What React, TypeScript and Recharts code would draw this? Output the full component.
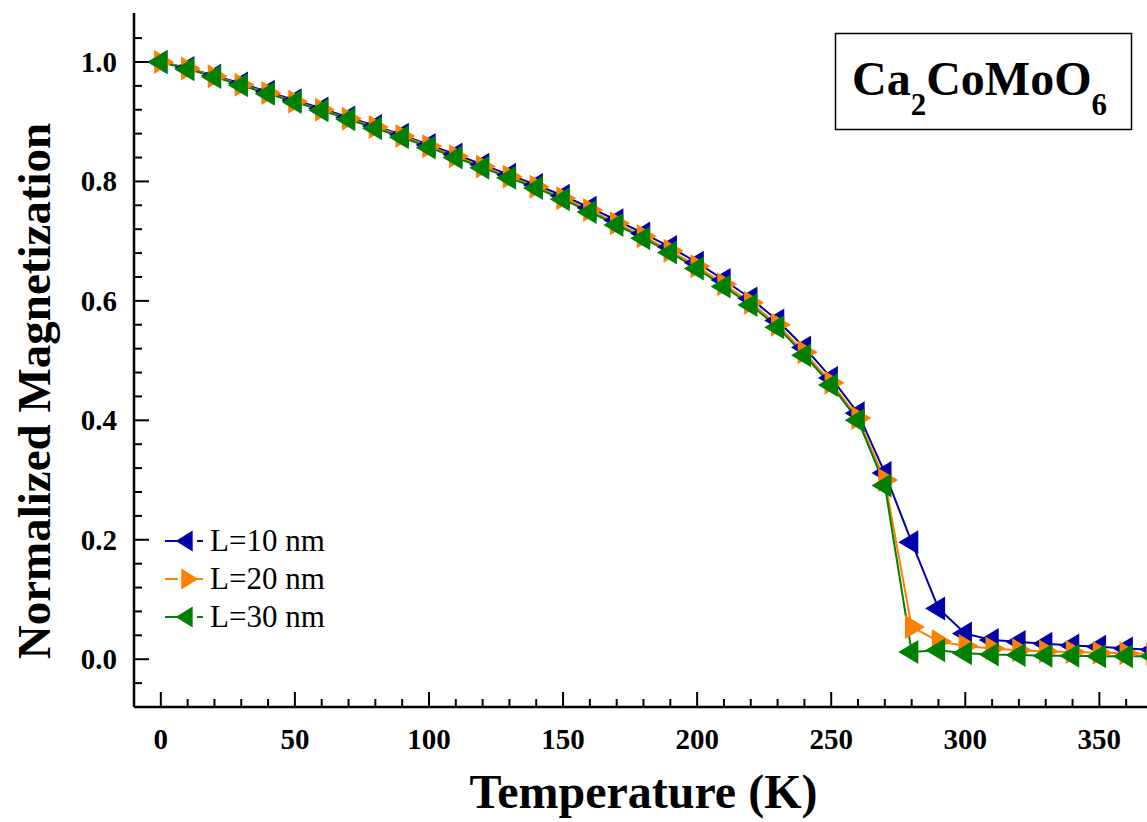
import React from 'react';
import { Legend, Line, LineChart, XAxis, YAxis } from 'recharts';

const temperatures = [
  0, 10, 20, 30, 40, 50, 60, 70, 80, 90, 100, 110, 120, 130, 140, 150, 160, 170, 180, 190,
  200, 210, 220, 230, 240, 250, 260, 270, 280, 290, 300, 310, 320, 330, 340, 350, 360, 370,
];

const magL10 = [
  1.0, 0.99, 0.977, 0.964, 0.95, 0.936, 0.922, 0.907, 0.893, 0.878, 0.861, 0.845, 0.828, 0.811,
  0.794, 0.776, 0.756, 0.735, 0.713, 0.69, 0.664, 0.635, 0.604, 0.567, 0.522, 0.471, 0.412,
  0.312, 0.196, 0.085, 0.043, 0.032, 0.029, 0.026, 0.023, 0.021, 0.018, 0.016,
];

const magL20 = [
  1.0, 0.989, 0.976, 0.962, 0.948, 0.934, 0.92, 0.905, 0.891, 0.876, 0.859, 0.842, 0.825, 0.808,
  0.791, 0.772, 0.752, 0.73, 0.708, 0.684, 0.658, 0.628, 0.597, 0.56, 0.514, 0.463, 0.404,
  0.3, 0.054, 0.03, 0.022, 0.018, 0.015, 0.013, 0.012, 0.011, 0.01, 0.009,
];

const magL30 = [
  1.0, 0.988, 0.975, 0.961, 0.947, 0.933, 0.919, 0.904, 0.889, 0.874, 0.857, 0.84, 0.823, 0.806,
  0.789, 0.77, 0.749, 0.727, 0.705, 0.681, 0.654, 0.624, 0.593, 0.556, 0.509, 0.459, 0.4,
  0.291, 0.012, 0.015, 0.01, 0.008, 0.007, 0.006, 0.006, 0.005, 0.005, 0.005,
];

const xTicks = [
  0, 10, 20, 30, 40, 50, 60, 70, 80, 90, 100, 110, 120, 130, 140, 150, 160, 170, 180, 190,
  200, 210, 220, 230, 240, 250, 260, 270, 280, 290, 300, 310, 320, 330, 340, 350, 360,
];

const yTicks = [
  -0.04, 0, 0.04, 0.08, 0.12, 0.16, 0.2, 0.24, 0.28, 0.32, 0.36, 0.4, 0.44, 0.48, 0.52, 0.56,
  0.6, 0.64, 0.68, 0.72, 0.76, 0.8, 0.84, 0.88, 0.92, 0.96, 1.0, 1.04,
];

const seriesNames = ['L=10 nm', 'L=20 nm', 'L=30 nm'];
const COLORS = ['#0000a8', '#ff8000', '#008000'];
const FONT = "'Liberation Serif', 'Times New Roman', serif";

const data = temperatures.map((t, i) => ({
  t,
  l10: magL10[i],
  l20: magL20[i],
  l30: magL30[i],
}));

const isMajorX = (v: number) => v % 50 === 0;
const isMajorY = (v: number) => Math.abs(v * 5 - Math.round(v * 5)) < 1e-6;

function BottomTick(props: any) {
  const { x, y, payload } = props;
  const major = isMajorX(payload.value);
  return (
    <g>
      <line x1={x} y1={y} x2={x} y2={y - (major ? 15 : 8)} stroke="#000" strokeWidth={2} />
      {major ? (
        <text x={x} y={y + 42} textAnchor="middle" fontSize={29} fontWeight="bold" fontFamily={FONT} fill="#000">
          {payload.value}
        </text>
      ) : null}
    </g>
  );
}

function TopTick(props: any) {
  const { x, y, payload } = props;
  const major = isMajorX(payload.value);
  return <line x1={x} y1={y} x2={x} y2={y + (major ? 15 : 8)} stroke="#000" strokeWidth={2} />;
}

function LeftTick(props: any) {
  const { x, y, payload } = props;
  const major = isMajorY(payload.value);
  return (
    <g>
      <line x1={x} y1={y} x2={x + (major ? 15 : 8)} y2={y} stroke="#000" strokeWidth={2} />
      {major ? (
        <text x={x - 17} y={y + 10} textAnchor="end" fontSize={29} fontWeight="bold" fontFamily={FONT} fill="#000">
          {Number(payload.value).toFixed(1)}
        </text>
      ) : null}
    </g>
  );
}

function RightTick(props: any) {
  const { x, y, payload } = props;
  const major = isMajorY(payload.value);
  return <line x1={x} y1={y} x2={x - (major ? 15 : 8)} y2={y} stroke="#000" strokeWidth={2} />;
}

function triangle(cx: number, cy: number, dir: 'left' | 'right', w = 20, h = 24) {
  // centroid-centred triangle, like Origin markers
  const tip = (2 * w) / 3;
  const base = w / 3;
  if (dir === 'left') return `${cx - tip},${cy} ${cx + base},${cy - h / 2} ${cx + base},${cy + h / 2}`;
  return `${cx + tip},${cy} ${cx - base},${cy - h / 2} ${cx - base},${cy + h / 2}`;
}

const makeDot = (color: string, dir: 'left' | 'right') => (props: any) => {
  const { cx, cy, index } = props;
  if (cx == null || cy == null) return <g key={`d-${index}`} />;
  return <polygon key={`d-${index}`} points={triangle(cx, cy, dir)} fill={color} />;
};

const markerDirs: Array<'left' | 'right'> = ['left', 'right', 'left'];

function LegendContent() {
  return (
    <div style={{ fontFamily: FONT, fontSize: 31, color: '#000' }}>
      {seriesNames.map((name, i) => (
        <div key={name} style={{ display: 'flex', alignItems: 'center', height: 38 }}>
          <svg width={45} height={30} style={{ display: 'block' }}>
            <line x1={0} y1={15} x2={13} y2={15} stroke={COLORS[i]} strokeWidth={2} />
            <line x1={32} y1={15} x2={38} y2={15} stroke={COLORS[i]} strokeWidth={2} />
            <polygon points={triangle(22, 15, markerDirs[i], 17, 21)} fill={COLORS[i]} />
          </svg>
          <span style={{ lineHeight: '38px' }}>{name}</span>
        </div>
      ))}
    </div>
  );
}

export default function App() {
  return (
    <div style={{ position: 'absolute', left: 0, top: 0, width: 1147, height: 822, overflow: 'hidden', background: '#fff' }}>
      <LineChart width={1160} height={822} data={data} margin={{ top: 13, right: 7, bottom: 0, left: 0 }}>
        <XAxis
          dataKey="t"
          type="number"
          domain={[-10, 370]}
          ticks={xTicks}
          interval={0}
          allowDataOverflow
          height={115}
          tickSize={0}
          tickMargin={0}
          tickLine={false}
          axisLine={{ stroke: '#000', strokeWidth: 2.5 }}
          tick={<BottomTick />}
          label={(p: any) => {
            const vb = p.viewBox || { x: 134, y: 707, width: 1019 };
            return (
              <text x={vb.x + vb.width / 2} y={vb.y + 101} textAnchor="middle" fontSize={48} fontWeight="bold" fontFamily={FONT} fill="#000">
                Temperature (K)
              </text>
            );
          }}
        />
        <XAxis
          xAxisId="top"
          orientation="top"
          dataKey="t"
          type="number"
          domain={[-10, 370]}
          ticks={xTicks}
          interval={0}
          allowDataOverflow
          height={0}
          tickSize={0}
          tickMargin={0}
          tickLine={false}
          axisLine={{ stroke: '#000', strokeWidth: 2.5 }}
          tick={<TopTick />}
        />
        <YAxis
          type="number"
          domain={[-0.08, 1.082]}
          ticks={yTicks}
          interval={0}
          allowDataOverflow
          width={134}
          tickSize={0}
          tickMargin={0}
          tickLine={false}
          axisLine={{ stroke: '#000', strokeWidth: 2.5 }}
          tick={<LeftTick />}
          label={() => (
            <text x={50} y={391} transform="rotate(-90 50 391)" textAnchor="middle" fontSize={47} fontWeight="bold" fontFamily={FONT} fill="#000">
              Normalized Magnetization
            </text>
          )}
        />
        <YAxis
          yAxisId="right"
          orientation="right"
          type="number"
          domain={[-0.08, 1.082]}
          ticks={yTicks}
          interval={0}
          allowDataOverflow
          width={0}
          tickSize={0}
          tickMargin={0}
          tickLine={false}
          axisLine={{ stroke: '#000', strokeWidth: 2.5 }}
          tick={<RightTick />}
        />
        <Legend
          layout="horizontal"
          verticalAlign="middle"
          align="center"
          content={<LegendContent />}
          wrapperStyle={{ position: 'absolute', left: 165, top: 522, width: 220, height: 114 }}
        />
        <Line
          dataKey="l10"
          name={seriesNames[0]}
          stroke={COLORS[0]}
          strokeWidth={2}
          dot={makeDot(COLORS[0], 'left')}
          activeDot={false}
          isAnimationActive={false}
        />
        <Line
          dataKey="l20"
          name={seriesNames[1]}
          stroke={COLORS[1]}
          strokeWidth={2}
          dot={makeDot(COLORS[1], 'right')}
          activeDot={false}
          isAnimationActive={false}
        />
        <Line
          dataKey="l30"
          name={seriesNames[2]}
          stroke={COLORS[2]}
          strokeWidth={2}
          dot={makeDot(COLORS[2], 'left')}
          activeDot={false}
          isAnimationActive={false}
        />
      </LineChart>
      <svg width={1147} height={822} style={{ position: 'absolute', left: 0, top: 0, pointerEvents: 'none' }}>
        <rect x={835.5} y={33.5} width={296} height={96} fill="#fff" stroke="#000" strokeWidth={1.5} />
        <text x={852} y={95} fontSize={48} fontWeight="bold" fontFamily={FONT} fill="#000">
          Ca
          <tspan fontSize={31} dy={20}>2</tspan>
          <tspan fontSize={48} dy={-20}>CoMoO</tspan>
          <tspan fontSize={31} dy={20}>6</tspan>
        </text>
      </svg>
    </div>
  );
}
